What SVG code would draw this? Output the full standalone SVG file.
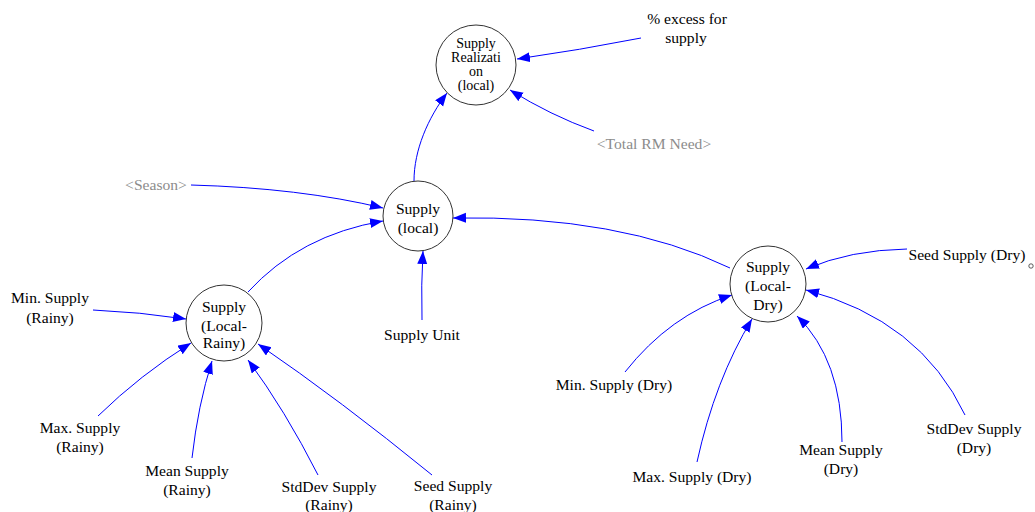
<svg xmlns="http://www.w3.org/2000/svg" width="1035" height="512" viewBox="0 0 1035 512">
<style>
text{font-family:"Liberation Serif","Times New Roman",serif;font-size:15.6px;fill:#000;text-anchor:middle}
.tight{font-size:14px}
.sh{fill:#8c8c8c}
.nd{fill:#fff;stroke:#333;stroke-width:1}
.cn path{fill:none;stroke:#0000ff;stroke-width:1;marker-end:url(#ah)}
</style>
<defs>
<marker id="ah" markerUnits="userSpaceOnUse" markerWidth="14" markerHeight="12" refX="13" refY="5" orient="auto">
<path d="M0,0 L13,5 L0,10 Z" fill="#0000ff"/>
</marker>
</defs>
<rect width="1035" height="512" fill="#fff"/>
<g id="connectors" class="cn">
<path d="M414,181 C414,150 428,118 447,93"/>
<path d="M641,38 Q580,50 517,59"/>
<path d="M594,131 Q550,115 510,90"/>
<path d="M191,185 Q300,188 383,208"/>
<path d="M248,292 Q300,235 383,221"/>
<path d="M730,268 Q620,215 453,218"/>
<path d="M422,320 Q421,285 423,251"/>
<path d="M93,310 Q140,312 186,319"/>
<path d="M98,416 Q140,375 191,343"/>
<path d="M192,458 Q198,405 212,361"/>
<path d="M318,475 Q285,410 248,360"/>
<path d="M432,475 Q340,400 258,344"/>
<path d="M907,249 Q850,250 806,269"/>
<path d="M965,415 Q920,320 806,290"/>
<path d="M842,442 Q842,360 797,316"/>
<path d="M697,462 Q715,380 752,319"/>
<path d="M625,372 Q670,315 732,295"/>
</g>
<g id="supply-realization">
<circle class="nd" cx="476" cy="65" r="40"/>
<text class="tight" x="476" y="48">Supply</text>
<text class="tight" x="476" y="62">Realizati</text>
<text class="tight" x="476" y="76">on</text>
<text class="tight" x="476" y="90">(local)</text>
</g>
<g id="supply-local">
<circle class="nd" cx="418" cy="216" r="35"/>
<text x="418" y="214">Supply</text>
<text x="418" y="233">(local)</text>
</g>
<g id="supply-local-rainy">
<circle class="nd" cx="224" cy="323" r="38"/>
<text x="224" y="312">Supply</text>
<text x="224" y="331">(Local-</text>
<text x="224" y="348">Rainy)</text>
</g>
<g id="supply-local-dry">
<circle class="nd" cx="768" cy="284" r="38"/>
<text x="768" y="272">Supply</text>
<text x="768" y="291">(Local-</text>
<text x="768" y="310">Dry)</text>
</g>
<g id="pct-excess"><text x="687" y="24">% excess for</text><text x="686" y="43">supply</text></g>
<g id="total-rm-need"><text class="sh" x="654" y="149">&lt;Total RM Need&gt;</text></g>
<g id="season"><text class="sh" x="156" y="190">&lt;Season&gt;</text></g>
<g id="supply-unit"><text x="422" y="340">Supply Unit</text></g>
<g id="min-rainy"><text x="50" y="303">Min. Supply</text><text x="50" y="323">(Rainy)</text></g>
<g id="max-rainy"><text x="80" y="433">Max. Supply</text><text x="80" y="452">(Rainy)</text></g>
<g id="mean-rainy"><text x="187" y="476">Mean Supply</text><text x="187" y="495">(Rainy)</text></g>
<g id="stddev-rainy"><text x="329" y="492">StdDev Supply</text><text x="329" y="510">(Rainy)</text></g>
<g id="seed-rainy"><text x="453" y="491">Seed Supply</text><text x="453" y="510">(Rainy)</text></g>
<g id="seed-dry"><text x="967" y="260">Seed Supply (Dry)</text><circle cx="1031" cy="266" r="2.2" fill="none" stroke="#333" stroke-width="0.8"/></g>
<g id="min-dry"><text x="614" y="390">Min. Supply (Dry)</text></g>
<g id="max-dry"><text x="692" y="482">Max. Supply (Dry)</text></g>
<g id="mean-dry"><text x="841" y="455">Mean Supply</text><text x="841" y="474">(Dry)</text></g>
<g id="stddev-dry"><text x="974" y="434">StdDev Supply</text><text x="974" y="453">(Dry)</text></g>
</svg>
